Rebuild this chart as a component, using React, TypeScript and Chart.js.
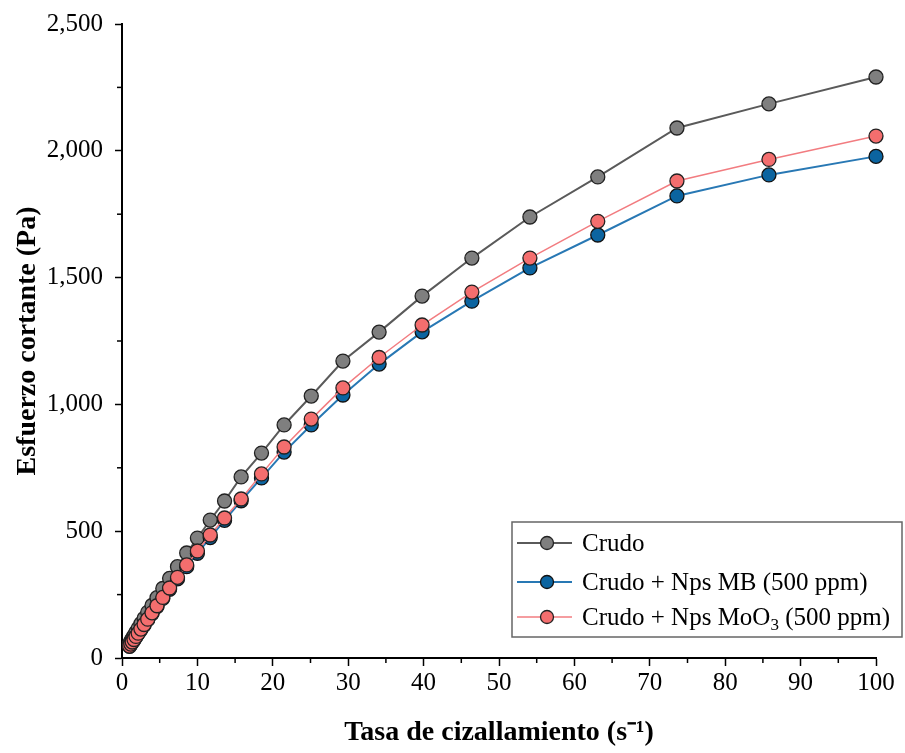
import React, { useEffect, useRef } from 'react';
import { Chart, registerables } from 'chart.js';
Chart.register(...registerables);

const shearRate = [1, 1.17, 1.36, 1.59, 1.85, 2.15, 2.51, 2.93, 3.41, 3.98, 4.64, 5.41, 6.31, 7.36, 8.58, 10, 11.7, 13.6, 15.8, 18.5, 21.5, 25.1, 29.3, 34.1, 39.8, 46.4, 54.1, 63.1, 73.6, 85.8, 100];
const crudo = [57, 66, 76, 88, 102, 117, 135, 156, 180, 207, 238, 274, 314, 360, 414, 473, 544, 619, 714, 808, 919, 1033, 1171, 1285, 1427, 1577, 1739, 1897, 2090, 2185, 2291];
const crudoMB = [46, 54, 62, 72, 84, 97, 112, 130, 151, 175, 203, 235, 271, 312, 360, 413, 475, 543, 620, 710, 812, 919, 1037, 1159, 1286, 1407, 1538, 1668, 1822, 1905, 1978];
const crudoMoO3 = [47, 55, 63, 73, 85, 98, 114, 132, 153, 178, 206, 239, 276, 318, 367, 422, 485, 552, 627, 726, 832, 942, 1065, 1185, 1313, 1443, 1577, 1722, 1881, 1966, 2058];

const seriesLabels = ['Crudo', 'Crudo + Nps MB (500 ppm)', 'Crudo + Nps MoO₃ (500 ppm)'];
const xTitle = 'Tasa de cizallamiento (s⁻¹)';
const yTitle = 'Esfuerzo cortante (Pa)';

const FONT = "'Liberation Serif', 'Times New Roman', serif";

const minorTicks = {
  id: 'minorTicks',
  afterDraw(chart: any) {
    const { ctx } = chart;
    const x = chart.scales.x;
    const y = chart.scales.y;
    ctx.save();
    ctx.strokeStyle = '#000';
    ctx.lineWidth = 1.5;
    for (let v = 5; v < 100; v += 10) {
      const px = x.getPixelForValue(v);
      ctx.beginPath();
      ctx.moveTo(px, x.top);
      ctx.lineTo(px, x.top + 5);
      ctx.stroke();
    }
    for (let v = 250; v < 2500; v += 500) {
      const py = y.getPixelForValue(v);
      ctx.beginPath();
      ctx.moveTo(y.right, py);
      ctx.lineTo(y.right - 5, py);
      ctx.stroke();
    }
    ctx.restore();
  },
};

const boxLegend = {
  id: 'boxLegend',
  afterDraw(chart: any) {
    const { ctx, chartArea } = chart;
    const right = chartArea.right + 26;
    const bottom = chartArea.bottom - 21;
    const left = right - 390;
    const top = bottom - 115;
    ctx.save();
    ctx.fillStyle = '#fff';
    ctx.fillRect(left, top, right - left, bottom - top);
    ctx.strokeStyle = '#666';
    ctx.lineWidth = 1.5;
    ctx.strokeRect(left, top, right - left, bottom - top);
    const rows = [21, 60, 95];
    chart.data.datasets.forEach((ds: any, i: number) => {
      const cy = top + rows[i];
      ctx.strokeStyle = ds.borderColor;
      ctx.lineWidth = ds.borderWidth;
      ctx.beginPath();
      ctx.moveTo(left + 5, cy);
      ctx.lineTo(left + 60, cy);
      ctx.stroke();
      ctx.beginPath();
      ctx.arc(left + 35, cy, 6.5, 0, Math.PI * 2);
      ctx.fillStyle = ds.pointBackgroundColor;
      ctx.fill();
      ctx.strokeStyle = ds.pointBorderColor;
      ctx.lineWidth = 1.3;
      ctx.stroke();
      ctx.fillStyle = '#000';
      ctx.textBaseline = 'middle';
      ctx.textAlign = 'left';
      const big = `25px ${FONT}`;
      const small = `17px ${FONT}`;
      let tx = left + 70;
      const parts = String(ds.label).split('₃');
      parts.forEach((p: string, k: number) => {
        ctx.font = big;
        ctx.fillText(p, tx, cy + 1);
        tx += ctx.measureText(p).width;
        if (k < parts.length - 1) {
          ctx.font = small;
          ctx.fillText('3', tx, cy + 9);
          tx += ctx.measureText('3').width;
        }
      });
    });
    ctx.restore();
  },
};

export default function App() {
  const ref = useRef<HTMLCanvasElement>(null);
  useEffect(() => {
    document.body.style.margin = '0';
    const mk = (vals: number[]) => shearRate.map((x, i) => ({ x, y: vals[i] }));
    const chart = new Chart(ref.current as HTMLCanvasElement, {
      type: 'line',
      data: {
        datasets: [
          {
            label: seriesLabels[0],
            data: mk(crudo),
            borderColor: '#5a5a5a',
            borderWidth: 2,
            pointBackgroundColor: '#7f7f7f',
            pointBorderColor: '#222',
            pointBorderWidth: 1.3,
            pointRadius: 7,
            order: 2,
          },
          {
            label: seriesLabels[1],
            data: mk(crudoMB),
            borderColor: '#2878b4',
            borderWidth: 2,
            pointBackgroundColor: '#0b64a0',
            pointBorderColor: '#111',
            pointBorderWidth: 1.3,
            pointRadius: 7,
            order: 1,
          },
          {
            label: seriesLabels[2],
            data: mk(crudoMoO3),
            borderColor: '#f27c80',
            borderWidth: 1.5,
            pointBackgroundColor: '#f46e6e',
            pointBorderColor: '#222',
            pointBorderWidth: 1.3,
            pointRadius: 7,
            order: 0,
          },
        ] as any,
      },
      options: {
        animation: false,
        responsive: false,
        clip: false as any,
        layout: { padding: { top: 24, right: 29, left: 0, bottom: 0 } },
        plugins: { legend: { display: false }, tooltip: { enabled: false } },
        elements: { line: { tension: 0 } },
        scales: {
          x: {
            type: 'linear',
            min: 0,
            max: 100,
            ticks: { stepSize: 10, color: '#000', font: { family: FONT, size: 25 }, padding: 2, maxRotation: 0 },
            grid: { drawOnChartArea: false, tickLength: 8, tickColor: '#000', tickWidth: 1.5 },
            border: { color: '#000', width: 2 },
            title: { display: true, text: xTitle, color: '#000', font: { family: FONT, size: 28, weight: 'bold' }, padding: { top: 0, bottom: 3 } },
            afterFit: (s: any) => { s.height = 95; s.paddingLeft = 0; s.paddingRight = 0; },
          },
          y: {
            type: 'linear',
            min: 0,
            max: 2500,
            ticks: {
              stepSize: 500,
              color: '#000',
              font: { family: FONT, size: 25 },
              padding: 12,
              callback: (v: any) => Number(v).toLocaleString('en-US'),
            },
            grid: { drawOnChartArea: false, tickLength: 7, tickColor: '#000', tickWidth: 1.5 },
            border: { color: '#000', width: 2 },
            title: { display: true, text: yTitle, color: '#000', font: { family: FONT, size: 28, weight: 'bold' }, padding: { top: 11, bottom: 0 } },
            afterFit: (s: any) => { s.width = 122; s.paddingTop = 0; s.paddingBottom = 0; },
          },
        },
      } as any,
      plugins: [minorTicks, boxLegend],
    });
    return () => chart.destroy();
  }, []);
  return (
    <div style={{ width: 905, height: 753 }}>
      <canvas ref={ref} width={905} height={753} />
    </div>
  );
}
